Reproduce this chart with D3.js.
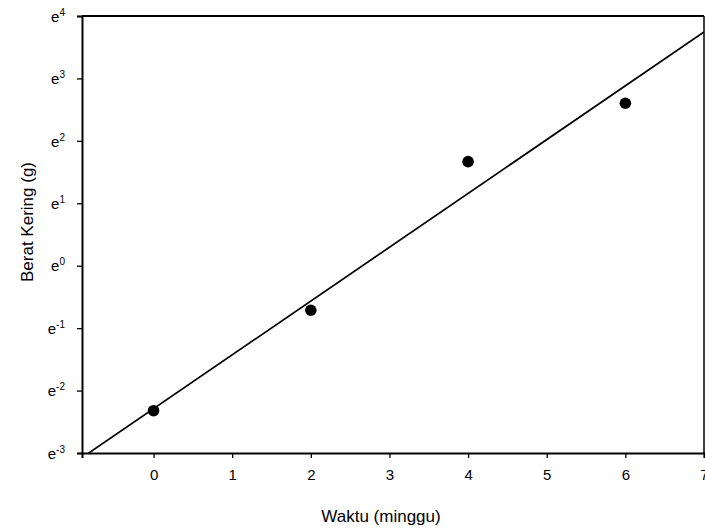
<!DOCTYPE html>
<html lang="en">
<head>
<meta charset="UTF-8">
<title>Berat Kering</title>
<style>
  body { margin: 0; background: #fff; }
  svg { font-family: "Liberation Sans", Arial, sans-serif; }
</style>
</head>
<body>
<svg id="chart" width="705" height="529"></svg>
<script src="https://cdn.jsdelivr.net/npm/d3@7"></script>
<script>
// data
const weeks = [0, 2, 4, 6];
const dryWeight = [0.098, 0.49, 5.3, 13.5];   // g
const xTicks = [0, 1, 2, 3, 4, 5, 6, 7];
const yPowers = [-3, -2, -1, 0, 1, 2, 3, 4];  // e^n
// fitted exponential line: ln(y) = fitA + fitB * x
const fitA = -2.29;
const fitB = 0.862;

const svg = d3.select("#chart");
const pLeft = 82, pRight = 704, pTop = 16, pBottom = 453;

const x = d3.scaleLinear().domain([-0.91, 7]).range([pLeft, pRight]);
const y = d3.scaleLog().base(Math.E)
  .domain([Math.exp(-3), Math.exp(4)]).range([pBottom, pTop]);

svg.append("clipPath").attr("id", "plot")
  .append("rect").attr("x", pLeft).attr("y", pTop)
  .attr("width", pRight - pLeft).attr("height", pBottom - pTop);

// fit line
const fitX = [-1, 7];
svg.append("path")
  .datum(fitX)
  .attr("clip-path", "url(#plot)")
  .attr("fill", "none").attr("stroke", "#000").attr("stroke-width", 1.7)
  .attr("d", d3.line()
    .x(d => x(d))
    .y(d => y(Math.exp(fitA + fitB * d))));

// points
svg.selectAll("circle.pt")
  .data(weeks)
  .enter().append("circle")
  .attr("class", "pt")
  .attr("cx", d => x(d))
  .attr("cy", (d, i) => y(dryWeight[i]))
  .attr("r", 5.8)
  .attr("fill", "#000");

// x axis
const xAxis = svg.append("g")
  .attr("transform", "translate(0," + pBottom + ")")
  .call(d3.axisBottom(x).tickValues(xTicks).tickSize(5).tickPadding(11).tickFormat(d3.format("d")));
xAxis.select(".domain").attr("stroke-width", 2);
xAxis.selectAll("line").attr("stroke-width", 1.3);
xAxis.selectAll("text").attr("font-size", 15).attr("fill", "#000");

// y axis
const yAxis = svg.append("g")
  .attr("transform", "translate(" + pLeft + ",0)")
  .call(d3.axisLeft(y).tickValues(yPowers.map(p => Math.exp(p))).tickSize(5).tickFormat(""));
yAxis.select(".domain").attr("stroke-width", 2);
yAxis.selectAll("line").attr("stroke-width", 1.3);
yAxis.selectAll(".tick")
  .data(yPowers)
  .append("text")
  .attr("x", -17).attr("dy", "0.35em")
  .attr("text-anchor", "end")
  .attr("fill", "#000")
  .attr("font-size", 15)
  .call(t => {
    t.append("tspan").text("e");
    t.append("tspan").attr("font-size", 10).attr("dy", "-0.6em").text(d => d);
  });

// top and right frame
svg.append("line").attr("x1", pLeft).attr("x2", pRight).attr("y1", pTop).attr("y2", pTop)
  .attr("stroke", "#000").attr("stroke-width", 2);
svg.append("line").attr("x1", pRight).attr("x2", pRight).attr("y1", pTop).attr("y2", pBottom)
  .attr("stroke", "#000").attr("stroke-width", 1.5);

// axis titles
svg.append("text")
  .attr("x", 381).attr("y", 522)
  .attr("text-anchor", "middle").attr("font-size", 17)
  .text("Waktu (minggu)");
svg.append("text")
  .attr("transform", "translate(33,222) rotate(-90)")
  .attr("text-anchor", "middle").attr("font-size", 17)
  .text("Berat Kering (g)");
</script>
</body>
</html>
